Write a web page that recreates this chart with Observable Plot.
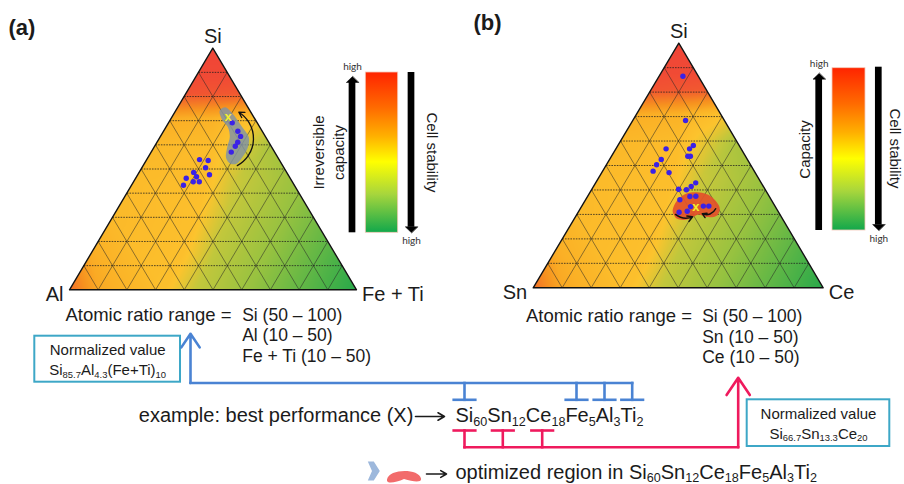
<!DOCTYPE html>
<html>
<head>
<meta charset="utf-8">
<script src="https://cdn.jsdelivr.net/npm/d3@7"></script>
<script src="https://cdn.jsdelivr.net/npm/@observablehq/plot@0.6"></script>
<style>
  html, body { margin: 0; padding: 0; background: #fff; }
  #chart { width: 904px; height: 484px; overflow: hidden; }
</style>
</head>
<body>
<div id="chart"></div>
<script>
// ======================= DATA =======================
const panelTags = ["(a)", "(b)"];
const cornersA = ["Si", "Al", "Fe + Ti"];
const cornersB = ["Si", "Sn", "Ce"];
const rangeLead = "Atomic ratio range =";
const rangesA = ["Si (50 – 100)", "Al (10 – 50)", "Fe + Ti (10 – 50)"];
const rangesB = ["Si (50 – 100)", "Sn (10 – 50)", "Ce (10 – 50)"];
const barTitlesA = ["Irreversible\ncapacity", "Cell stability"];
const barTitlesB = ["Capacity", "Cell stability"];
const barEndLabel = "high";
const gridSteps = [10, 20, 30, 40, 50, 60, 70, 80, 90];

// measured compositions, percent of the ternary diagram: Si (top corner) and right corner
const siA    = [69.1, 65.6, 63.5, 61.1, 59.4, 57.0, 53.9, 53.5, 50.5, 47.6, 48.6, 46.8, 46.2, 44.7, 44.7, 43.3];
const rightA = [22.2, 25.9, 27.9, 28.1, 28.1, 27.9, 18.4, 21.6, 22.2, 25.0, 19.0, 20.9, 17.6, 20.8, 22.9, 18.1];
const siB    = [86.5, 68.4, 56.8, 56.8, 58.2, 53.8, 53.8, 52.5, 50.3, 47.7, 47.1, 42.9, 41.4, 40.1, 40.3, 36.0, 37.3, 37.4, 33.2, 33.4, 33.4, 30.9, 31.3];
const rightB = [8.2, 18.2, 17.3, 25.4, 26.0, 26.3, 27.2, 17.8, 17.3, 17.4, 23.2, 34.5, 33.7, 32.7, 29.9, 32.5, 35.3, 37.3, 37.6, 41.9, 43.8, 34.8, 37.4];
const bestA = [71.7, 19.5];   // X in (a)
const bestB = [33.2, 39.4];   // X in (b)

// optimized regions (outline compositions)
const regionSiA    = [74.2, 75.6, 73.1, 67.3, 63.2, 59.0, 54.9, 52.2, 52.2, 54.6, 59.0, 63.2, 67.3, 70.4];
const regionRightA = [15.3, 16.6, 20.2, 26.6, 30.9, 32.7, 32.8, 32.1, 30.0, 27.3, 25.5, 24.3, 21.6, 18.0];
const regionSiB    = [31.9, 35.7, 38.7, 38.7, 37.0, 32.7, 29.6, 28.9, 30.0, 29.1, 27.9, 28.2, 30.3];
const regionRightB = [32.1, 31.7, 33.7, 39.4, 43.1, 47.9, 48.6, 45.5, 42.0, 40.8, 39.1, 35.5, 33.1];

// trend arrows [from Si, from right, to Si, to right]
const trendA = [[51.4, 32.8, 73.5, 22.3]];
const trendB1 = [[30.0, 34.0, 29.0, 40.4]];
const trendB2 = [[32.3, 46.7, 30.3, 43.1]];

// background performance map: [Si, right corner, level 0..1]
const heat = [
  [100, 0, 1.0],
  [88, 0, 0.98], [88, 12, 0.98],
  [81, 0, 0.95], [81, 9, 0.94], [81, 19, 0.93],
  [76, 0, 0.8], [76, 12, 0.78], [76, 24, 0.74],
  [71, 0, 0.64], [71, 14, 0.62], [71, 29, 0.52],
  [60, 0, 0.58], [60, 20, 0.55], [60, 29, 0.46], [60, 40, 0.31],
  [45, 0, 0.56], [45, 25, 0.54], [45, 35, 0.4], [45, 55, 0.27],
  [30, 0, 0.57], [30, 29, 0.53], [30, 40, 0.38], [30, 70, 0.19],
  [15, 0, 0.64], [15, 32, 0.53], [15, 43, 0.37], [15, 85, 0.1],
  [0, 0, 0.86], [0, 10, 0.66], [0, 33, 0.53], [0, 44, 0.38], [0, 60, 0.27], [0, 80, 0.14], [0, 100, 0.02]
];
const mapPalette = ["#1ea64b", "#5cb646", "#97c240", "#c2c73c", "#fcc42e", "#fbb126", "#f7921f", "#f36b2a", "#f04437"];
const barStops = [[0, "#ff2400"], [0.22, "#ff6a00"], [0.4, "#ffb000"], [0.56, "#ffff00"], [0.76, "#a8d63c"], [1, "#12a84b"]];

// formulas
const bestElements = ["Si", "Sn", "Ce", "Fe", "Al", "Ti"];
const bestAmounts  = ["60", "12", "18", "5", "3", "2"];
const linkedA = ["Si", "Fe", "Al", "Ti"];
const linkedB = ["Si", "Sn", "Ce"];
const normTitle = "Normalized value";
const normElementsA = ["Si", "Al", "(Fe+Ti)"];
const normAmountsA  = ["85.7", "4.3", "10"];
const normElementsB = ["Si", "Sn", "Ce"];
const normAmountsB  = ["66.7", "13.3", "20"];
const exampleText = "example: best performance (X)";
const optimizedText = "optimized region in ";

// ======================= LAYOUT =======================
const layout = {
  a: {apex: [212.3, 47.7], left: [69, 289.3], right: [356, 289.3],
      bar: [365.3, 72, 397.7, 232.3], tag: [8, 34], titleAt: [326.7, 152], stabAt: [431.7, 152],
      range: [231, 241.7, 320], corners: cornersA, ranges: rangesA, titles: barTitlesA},
  b: {apex: [678.3, 42.7], left: [532.7, 287.3], right: [822.7, 287.3],
      bar: [832, 67.7, 865, 230], tag: [473, 29], titleAt: [802.7, 149], stabAt: [894, 148],
      range: [691.5, 701.7, 321.7], corners: cornersB, ranges: rangesB, titles: barTitlesB}
};
const bottom = {
  normBoxA: [34.3, 335.7, 180, 381.7], normBoxB: [746.7, 399.3, 889.3, 446],
  exampleAt: [138.3, 421.7], formulaAt: [455, 421.7], arrow1: [415, 444, 416],
  optAt: [455, 478], arrow2: [426, 446, 473.5], chevronAt: [373.3, 470.5], beanAt: [403.5, 475.5],
  elementX: [464, 502.3, 541.7, 576, 604, 631.7],
  blue: {y: 382.5, capY: 399.3, tipX: 190, tipY: 333.3},
  pink: {y: 446.7, capY: 430, tipX: 737.7, tipY: 377.3},
  capHalf: 10.8
};
const ink = "#1b1b1b", blue = "#4a83d3", pink = "#ef1a5d", teal = "#3da7c7";
const font = "'Liberation Sans', Arial, Helvetica, sans-serif";

// ======================= HELPERS =======================
function tern(p, si, r) {
  const t = layout[p], s = si / 100, rr = r / 100, l = 1 - s - rr;
  return [s * t.apex[0] + l * t.left[0] + rr * t.right[0], s * t.apex[1] + l * t.left[1] + rr * t.right[1]];
}
const formula = (els, subs) => els.map((e, i) => e + "_{" + subs[i] + "}").join("");
const panels = ["a", "b"];

const heatRows = panels.flatMap(p => heat.map(([si, r, v]) => { const [x, y] = tern(p, si, r); return {p, x, y, v}; }));

const maskRows = panels.flatMap(p => {
  const t = layout[p];
  const L = [[t.apex[0], t.apex[1] - 3], [t.left[0] - 3, t.apex[1] - 3], [t.left[0] - 3, t.left[1]], [t.left[0], t.left[1]], [t.apex[0], t.apex[1]]];
  const R = [[t.apex[0], t.apex[1] - 3], [t.right[0] + 3, t.apex[1] - 3], [t.right[0] + 3, t.right[1]], [t.right[0], t.right[1]], [t.apex[0], t.apex[1]]];
  return [...L.map(([x, y]) => ({id: p + "L", x, y})), ...R.map(([x, y]) => ({id: p + "R", x, y}))];
});

const gridRows = panels.flatMap(p => gridSteps.flatMap(i => [
  {kind: "h", a: tern(p, i, 0), b: tern(p, i, 100 - i)},
  {kind: "d", a: tern(p, 0, i), b: tern(p, 100 - i, i)},
  {kind: "d", a: tern(p, 0, 100 - i), b: tern(p, 100 - i, 0)}
]));

const outlineRows = panels.flatMap(p => [[100, 0], [0, 0], [0, 100]].map(([s, r]) => { const [x, y] = tern(p, s, r); return {p, x, y}; }));

const dotRows = [
  ...siA.map((s, i) => tern("a", s, rightA[i])),
  ...siB.map((s, i) => tern("b", s, rightB[i]))
].map(([x, y]) => ({x, y}));
const bestRows = [tern("a", ...bestA), tern("b", ...bestB)].map(([x, y]) => ({x, y}));
const regionRowsA = regionSiA.map((s, i) => { const [x, y] = tern("a", s, regionRightA[i]); return {x, y}; });
const regionRowsB = regionSiB.map((s, i) => { const [x, y] = tern("b", s, regionRightB[i]); return {x, y}; });
const trendRows = (p, list) => list.map(([s1, r1, s2, r2]) => { const [x1, y1] = tern(p, s1, r1), [x2, y2] = tern(p, s2, r2); return {x1, y1, x2, y2}; });

const topCornerRows = panels.map(p => ({text: layout[p].corners[0], x: layout[p].apex[0], y: layout[p].apex[1] - 5.5}));
const leftCornerRows = panels.map(p => ({text: layout[p].corners[1], x: layout[p].left[0] - 6, y: layout[p].left[1] + 11}));
const rightCornerRows = panels.map(p => ({text: layout[p].corners[2], x: layout[p].right[0] + 5.5, y: layout[p].right[1] + 11}));
const tagRows = panels.map((p, i) => ({text: panelTags[i], x: layout[p].tag[0], y: layout[p].tag[1]}));
const leadRows = panels.map(p => ({text: rangeLead, x: layout[p].range[0], y: layout[p].range[2]}));
const rangeRows = panels.flatMap(p => {
  const [, xr, y0] = layout[p].range;
  return layout[p].ranges.map((s, k) => ({text: s, x: xr, y: y0 + k * 20.5}));
});

const barRows = panels.map(p => { const [x1, y1, x2, y2] = layout[p].bar; return {x1, y1, x2, y2}; });
const shaftRows = [], headRows = [], highRows = [];
panels.forEach(p => {
  const [bx1, by1, bx2, by2] = layout[p].bar;
  const up = bx1 - 13.3, dn = bx2 + 13.3, hw = 6.2, sw = 3.35, hh = 6;
  const upTip = by1 + (p === "a" ? 4 : 5);
  shaftRows.push({x1: up - sw, x2: up + sw, y1: upTip + hh - 0.5, y2: by2});
  shaftRows.push({x1: dn - sw, x2: dn + sw, y1: by1 - (p === "a" ? 0 : 1), y2: by2 - hh + 0.5});
  [[up, upTip], [up - hw, upTip + hh], [up + hw, upTip + hh]].forEach(([x, y]) => headRows.push({id: p + "u", x, y}));
  [[dn, by2], [dn - hw, by2 - hh], [dn + hw, by2 - hh]].forEach(([x, y]) => headRows.push({id: p + "d", x, y}));
  highRows.push({x: up, y: upTip - 6.5}, {x: dn, y: by2 + 11});
});
const titleRows = panels.map(p => ({text: layout[p].titles[0], x: layout[p].titleAt[0], y: layout[p].titleAt[1]}));
const stabRows = panels.map(p => ({text: layout[p].titles[1], x: layout[p].stabAt[0], y: layout[p].stabAt[1]}));

// normalized-value boxes
const boxRows = [bottom.normBoxA, bottom.normBoxB].map(([x1, y1, x2, y2]) => ({x1, y1, x2, y2}));
const normRows = [
  [bottom.normBoxA, normElementsA, normAmountsA],
  [bottom.normBoxB, normElementsB, normAmountsB]
].flatMap(([b, els, subs]) => [
  {text: normTitle, x: (b[0] + b[2]) / 2, y: b[1] + 18.8},
  {text: formula(els, subs), x: (b[0] + b[2]) / 2, y: b[1] + 38.7}
]);

// connectors
function connector(spec, names) {
  const xs = names.map(n => bottom.elementX[bestElements.indexOf(n)]);
  const segs = [{x1: Math.min(spec.tipX, ...xs), y1: spec.y, x2: Math.max(spec.tipX, ...xs), y2: spec.y}];
  xs.forEach(x => {
    segs.push({x1: x, y1: spec.y, x2: x, y2: spec.capY});
    segs.push({x1: x - bottom.capHalf, y1: spec.capY, x2: x + bottom.capHalf, y2: spec.capY});
  });
  return segs;
}
const blueSegs = connector(bottom.blue, linkedA);
const pinkSegs = connector(bottom.pink, linkedB);

const bestFormula = formula(bestElements, bestAmounts);
const lineRows = [
  {text: exampleText, x: bottom.exampleAt[0], y: bottom.exampleAt[1]},
  {text: bestFormula, x: bottom.formulaAt[0], y: bottom.formulaAt[1]},
  {text: optimizedText + bestFormula, x: bottom.optAt[0], y: bottom.optAt[1]}
];
const smallArrows = [bottom.arrow1, bottom.arrow2].map(([x1, x2, y]) => ({x1, x2, y1: y, y2: y}));

// legend icons (custom symbols)
const chevron = {draw(ctx) {
  ctx.moveTo(-6, -9.5); ctx.lineTo(0, -9.5); ctx.lineTo(6, 0); ctx.lineTo(0, 9.5);
  ctx.lineTo(-6, 9.5); ctx.lineTo(-1.8, 0); ctx.closePath();
}};
const bean = {draw(ctx) {
  ctx.moveTo(-17, 3.5);
  ctx.bezierCurveTo(-15, -7.5, 15, -7.5, 17, 2.5);
  ctx.bezierCurveTo(18, 6.5, 10, 6, 0, 3);
  ctx.bezierCurveTo(-8, 6.5, -18, 8.5, -17, 3.5);
  ctx.closePath();
}};

// ======================= PLOT =======================
const gradientDefs = () => {
  const ns = "http://www.w3.org/2000/svg";
  const defs = document.createElementNS(ns, "defs");
  const g = document.createElementNS(ns, "linearGradient");
  g.setAttribute("id", "cbarGrad");
  g.setAttribute("x1", "0"); g.setAttribute("y1", "0"); g.setAttribute("x2", "0"); g.setAttribute("y2", "1");
  barStops.forEach(([o, c]) => {
    const s = document.createElementNS(ns, "stop");
    s.setAttribute("offset", o); s.setAttribute("stop-color", c);
    g.appendChild(s);
  });
  defs.appendChild(g);
  return defs;
};

const txt = {fill: ink, fontFamily: font};
const marks = [gradientDefs];
panels.forEach(p => {
  const t = layout[p];
  marks.push(Plot.raster(heatRows.filter(d => d.p === p), {
    x: "x", y: "y", fill: "v", interpolate: "barycentric",
    x1: t.left[0], y1: t.apex[1], x2: t.right[0], y2: t.left[1], pixelSize: 1
  }));
});
marks.push(
  Plot.line(maskRows, {x: "x", y: "y", z: "id", fill: "white", stroke: "white", strokeWidth: 0.6, curve: "linear-closed"}),
  Plot.link(gridRows.filter(d => d.kind === "d"), {x1: d => d.a[0], y1: d => d.a[1], x2: d => d.b[0], y2: d => d.b[1],
    stroke: "#262626", strokeWidth: 0.7, strokeOpacity: 0.75}),
  Plot.link(gridRows.filter(d => d.kind === "h"), {x1: d => d.a[0], y1: d => d.a[1], x2: d => d.b[0], y2: d => d.b[1],
    stroke: "#1e1e1e", strokeWidth: 0.9, strokeOpacity: 0.85, strokeDasharray: "1.6,1.1"}),
  Plot.line(outlineRows, {x: "x", y: "y", z: "p", curve: "linear-closed", stroke: "#111", strokeWidth: 1.4}),
  Plot.line(regionRowsA, {x: "x", y: "y", curve: "catmull-rom-closed", fill: "#7f92a6", fillOpacity: 0.82, stroke: "none"}),
  Plot.line(regionRowsB, {x: "x", y: "y", curve: "catmull-rom-closed", fill: "#e4502a", fillOpacity: 0.92, stroke: "none"}),
  Plot.arrow(trendRows("a", trendA), {x1: "x1", y1: "y1", x2: "x2", y2: "y2", bend: -60, stroke: "#111", strokeWidth: 1.3, headLength: 7}),
  Plot.arrow(trendRows("b", trendB1), {x1: "x1", y1: "y1", x2: "x2", y2: "y2", bend: -30, stroke: "#111", strokeWidth: 1.5, headLength: 6}),
  Plot.arrow(trendRows("b", trendB2), {x1: "x1", y1: "y1", x2: "x2", y2: "y2", bend: 45, stroke: "#111", strokeWidth: 1.5, headLength: 6}),
  Plot.dot(dotRows, {x: "x", y: "y", r: 2.7, fill: "#3b22e6", stroke: "none"}),
  Plot.text(bestRows, {x: "x", y: "y", text: () => "x", fill: "#f3ef2e", fontSize: 13, fontWeight: "bold", fontFamily: font}),
  // corner labels, panel tags
  Plot.text(topCornerRows, {x: "x", y: "y", text: "text", textAnchor: "middle", lineAnchor: "bottom", fontSize: 20, ...txt}),
  Plot.text(leftCornerRows, {x: "x", y: "y", text: "text", textAnchor: "end", lineAnchor: "bottom", fontSize: 20, ...txt}),
  Plot.text(rightCornerRows, {x: "x", y: "y", text: "text", textAnchor: "start", lineAnchor: "bottom", fontSize: 20, ...txt}),
  Plot.text(tagRows, {x: "x", y: "y", text: "text", textAnchor: "start", lineAnchor: "bottom", fontSize: 22, fontWeight: "bold", ...txt}),
  // colour bars and arrows
  Plot.rect(barRows, {x1: "x1", y1: "y1", x2: "x2", y2: "y2", fill: "url(#cbarGrad)", stroke: "#f6c9b8", strokeWidth: 0.8}),
  Plot.rect(shaftRows, {x1: "x1", y1: "y1", x2: "x2", y2: "y2", fill: "#000"}),
  Plot.line(headRows, {x: "x", y: "y", z: "id", fill: "#000", stroke: "#000", strokeWidth: 0.5, curve: "linear-closed"}),
  Plot.text(highRows, {x: "x", y: "y", text: () => barEndLabel, lineAnchor: "bottom", fontSize: 10, fill: "#333", fontFamily: "Lato, 'Open Sans', sans-serif"}),
  Plot.text(titleRows, {x: "x", y: "y", text: "text", rotate: -90, fontSize: 15, lineHeight: 1.33, ...txt}),
  Plot.text(stabRows, {x: "x", y: "y", text: "text", rotate: 90, fontSize: 15, ...txt}),
  // atomic ratio ranges
  Plot.text(leadRows, {x: "x", y: "y", text: "text", textAnchor: "end", lineAnchor: "bottom", fontSize: 18.5, ...txt}),
  Plot.text(rangeRows, {x: "x", y: "y", text: "text", textAnchor: "start", lineAnchor: "bottom", fontSize: 17.5, ...txt}),
  // normalized boxes
  Plot.rect(boxRows, {x1: "x1", y1: "y1", x2: "x2", y2: "y2", fill: "white", stroke: teal, strokeWidth: 2}),
  Plot.text(normRows, {x: "x", y: "y", text: "text", lineAnchor: "bottom", fontSize: 15, ...txt}),
  // connectors
  Plot.link(blueSegs, {x1: "x1", y1: "y1", x2: "x2", y2: "y2", stroke: blue, strokeWidth: 2.6, strokeLinecap: "square"}),
  Plot.arrow([bottom.blue], {x1: "tipX", y1: "y", x2: "tipX", y2: "tipY", stroke: blue, strokeWidth: 2.6, headLength: 12, headAngle: 68}),
  Plot.link(pinkSegs, {x1: "x1", y1: "y1", x2: "x2", y2: "y2", stroke: pink, strokeWidth: 2.6, strokeLinecap: "square"}),
  Plot.arrow([bottom.pink], {x1: "tipX", y1: "y", x2: "tipX", y2: "tipY", stroke: pink, strokeWidth: 2.6, headLength: 12, headAngle: 68}),
  // bottom lines
  Plot.text(lineRows, {x: "x", y: "y", text: "text", textAnchor: "start", lineAnchor: "bottom", fontSize: 20, ...txt}),
  Plot.arrow(smallArrows, {x1: "x1", y1: "y1", x2: "x2", y2: "y2", stroke: ink, strokeWidth: 1.6, headLength: 7, headAngle: 60}),
  Plot.dot([bottom.chevronAt], {x: d => d[0], y: d => d[1], symbol: chevron, fill: "#9db8dc", stroke: "none"}),
  Plot.dot([bottom.beanAt], {x: d => d[0], y: d => d[1], symbol: bean, fill: "#f26b6b", stroke: "none"})
);

const chart = Plot.plot({
  width: 904, height: 484, margin: 0,
  x: {domain: [0, 904], range: [0, 904], axis: null},
  y: {domain: [0, 484], range: [0, 484], axis: null},
  color: {type: "linear", domain: [0, 1], interpolate: d3.piecewise(d3.interpolateRgb, mapPalette)},
  style: {fontFamily: font, background: "white", overflow: "visible"},
  marks
});

// subscripts: turn "El_{n}" into real tspans
chart.querySelectorAll("text").forEach(t => {
  const s = t.textContent;
  if (!s.includes("_{")) return;
  t.textContent = "";
  const re = /_\{([^}]*)\}|([^_]+)/g;
  let m, prevSub = false;
  while ((m = re.exec(s))) {
    const ts = document.createElementNS("http://www.w3.org/2000/svg", "tspan");
    if (m[1] !== undefined) {
      ts.textContent = m[1];
      ts.style.fontSize = "0.63em";
      ts.setAttribute("dy", "0.3em");
      prevSub = true;
    } else {
      ts.textContent = m[2];
      if (prevSub) ts.setAttribute("dy", "-0.189em");
      prevSub = false;
    }
    t.appendChild(ts);
  }
});

document.getElementById("chart").append(chart);
</script>
</body>
</html>
